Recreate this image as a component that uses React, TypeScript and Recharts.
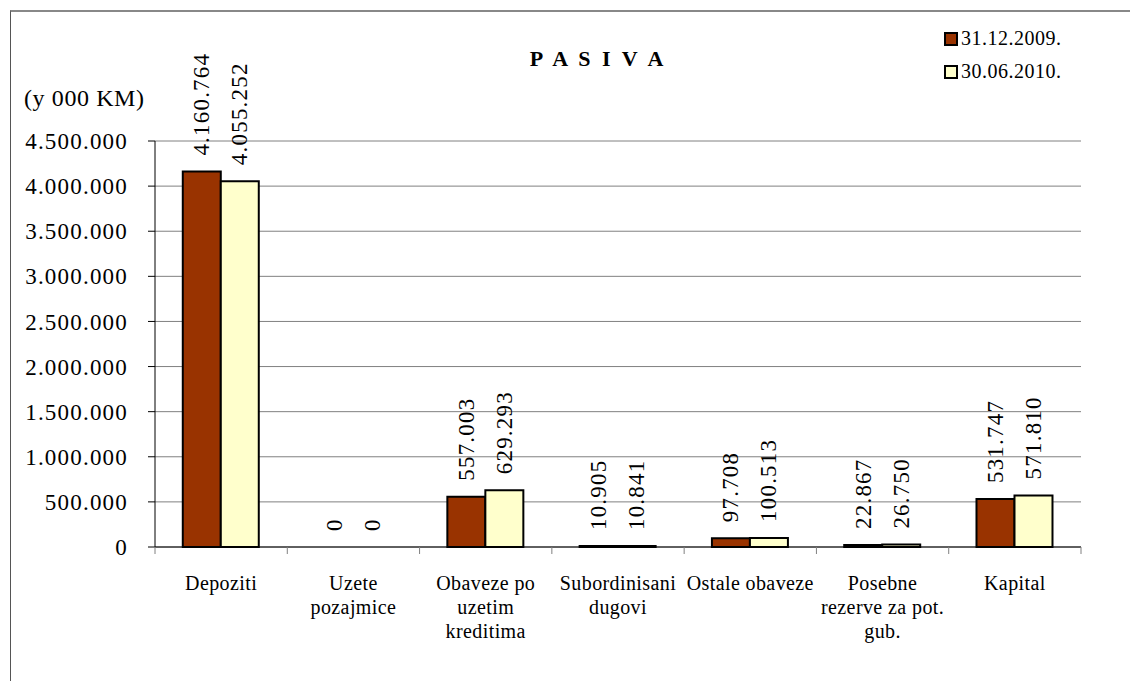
import React from 'react';
import { BarChart, Bar, XAxis, YAxis, CartesianGrid, Legend, LabelList, Rectangle } from 'recharts';

const categories = [
  'Depoziti',
  'Uzete\npozajmice',
  'Obaveze po\nuzetim\nkreditima',
  'Subordinisani\ndugovi',
  'Ostale obaveze',
  'Posebne\nrezerve za pot.\ngub.',
  'Kapital',
];
const values2009 = [4160764, 0, 557003, 10905, 97708, 22867, 531747];
const values2010 = [4055252, 0, 629293, 10841, 100513, 26750, 571810];
const seriesNames = ['31.12.2009.', '30.06.2010.'];
const seriesColors = ['#993300', '#FFFFCC'];
const yTicks = [0, 500000, 1000000, 1500000, 2000000, 2500000, 3000000, 3500000, 4000000, 4500000];

const data = categories.map((name, i) => ({ name, a: values2009[i], b: values2010[i] }));

const FONT = 'Liberation Serif, Times New Roman, Times, serif';
const fmt = (v: number) => String(v).replace(/\B(?=(\d{3})+(?!\d))/g, '.');

const PLOT_W = 1130 - 155 - 49;
const HALF_BAND = PLOT_W / categories.length / 2;

function YTick(props: any) {
  const { x, y, payload } = props;
  return (
    <text x={x} y={y} dy="0.355em" textAnchor="end" fill="#000" fontFamily={FONT} style={{ fontFamily: FONT, fontSize: 23, letterSpacing: 1.2 }}>
      {fmt(payload.value)}
    </text>
  );
}

function CategoryTick(props: any) {
  const { x, y, payload, index } = props;
  const lines = String(payload.value).split('\n');
  return (
    <g>
      <line x1={x - HALF_BAND} y1={y} x2={x - HALF_BAND} y2={y + 7} stroke="#808080" />
      {index === categories.length - 1 && (
        <line x1={x + HALF_BAND} y1={y} x2={x + HALF_BAND} y2={y + 7} stroke="#808080" />
      )}
      <text x={x} y={y + 43} textAnchor="middle" fill="#000" fontFamily={FONT} style={{ fontFamily: FONT, fontSize: 20, letterSpacing: 0.4 }}>
        {lines.map((l, k) => (
          <tspan key={k} x={x} dy={k === 0 ? 0 : 24}>{l}</tspan>
        ))}
      </text>
    </g>
  );
}

// zero values get no visible bar, only their label
function BarShape(props: any) {
  if (Math.abs(props.height) < 0.1) return <g />;
  return <Rectangle {...props} />;
}

function ValueLabel(props: any) {
  const { x, y, width, height, value } = props;
  const cx = x + width / 2;
  const top = height < 0 ? y + height : y;
  const cy = top - 16;
  return (
    <text
      x={cx}
      y={cy}
      transform={`rotate(-90, ${cx}, ${cy})`}
      textAnchor="start"
      dominantBaseline="central"
      fill="#000"
      fontFamily={FONT}
      style={{ fontFamily: FONT, fontSize: 23, letterSpacing: 1.2 }}
    >
      {fmt(value)}
    </text>
  );
}

function LegendBox() {
  return (
    <div style={{ fontFamily: FONT, fontSize: 20, color: '#000', letterSpacing: 0.5 }}>
      {seriesNames.map((n, i) => (
        <div key={n} style={{ display: 'flex', alignItems: 'center', height: 33 }}>
          <span
            style={{
              display: 'inline-block',
              width: 10,
              height: 10,
              background: seriesColors[i],
              border: '2px solid #000',
              marginRight: 3,
            }}
          />
          {n}
        </div>
      ))}
    </div>
  );
}

export default function App() {
  return (
    <div style={{ position: 'absolute', left: 0, top: 0, width: 1130, height: 681, background: '#fff', fontFamily: FONT }}>
      <div
        style={{
          position: 'absolute',
          left: 10,
          top: 10,
          width: 1125,
          height: 680,
          borderTop: '2px solid #888',
          borderLeft: '1px solid #555',
        }}
      />
      <div
        style={{
          position: 'absolute',
          left: 0,
          width: 1196,
          top: 46,
          textAlign: 'center',
          fontFamily: FONT,
          fontWeight: 700,
          fontSize: 22,
          letterSpacing: 3,
        }}
      >
        P A S I V A
      </div>
      <div style={{ position: 'absolute', left: 24, top: 85, fontFamily: FONT, fontSize: 24, letterSpacing: 0.6 }}>
        (y 000 KM)
      </div>
      <BarChart
        width={1130}
        height={681}
        data={data}
        margin={{ top: 141, right: 49, left: 10, bottom: 44 }}
        barCategoryGap="21%"
        barGap={0}
      >
        <CartesianGrid horizontal vertical={false} stroke="#808080" />
        <YAxis
          width={145}
          domain={[0, 4500000]}
          ticks={yTicks}
          axisLine={{ stroke: '#000' }}
          tickLine={{ stroke: '#000' }}
          tickSize={7}
          tickMargin={20}
          tick={<YTick />}
          interval={0}
        />
        <XAxis
          dataKey="name"
          height={90}
          axisLine={{ stroke: '#000' }}
          tickLine={false}
          tickSize={0}
          tickMargin={0}
          interval={0}
          tick={<CategoryTick />}
        />
        <Legend
          layout="vertical"
          align="center"
          verticalAlign="middle"
          wrapperStyle={{ position: 'absolute', left: 944, top: 22, width: 150 }}
          content={() => <LegendBox />}
        />
        <Bar dataKey="a" name={seriesNames[0]} fill={seriesColors[0]} stroke="#000" strokeWidth={2} minPointSize={0.01} shape={BarShape} isAnimationActive={false}>
          <LabelList dataKey="a" content={<ValueLabel />} />
        </Bar>
        <Bar dataKey="b" name={seriesNames[1]} fill={seriesColors[1]} stroke="#000" strokeWidth={2} minPointSize={0.01} shape={BarShape} isAnimationActive={false}>
          <LabelList dataKey="b" content={<ValueLabel />} />
        </Bar>
      </BarChart>
    </div>
  );
}
